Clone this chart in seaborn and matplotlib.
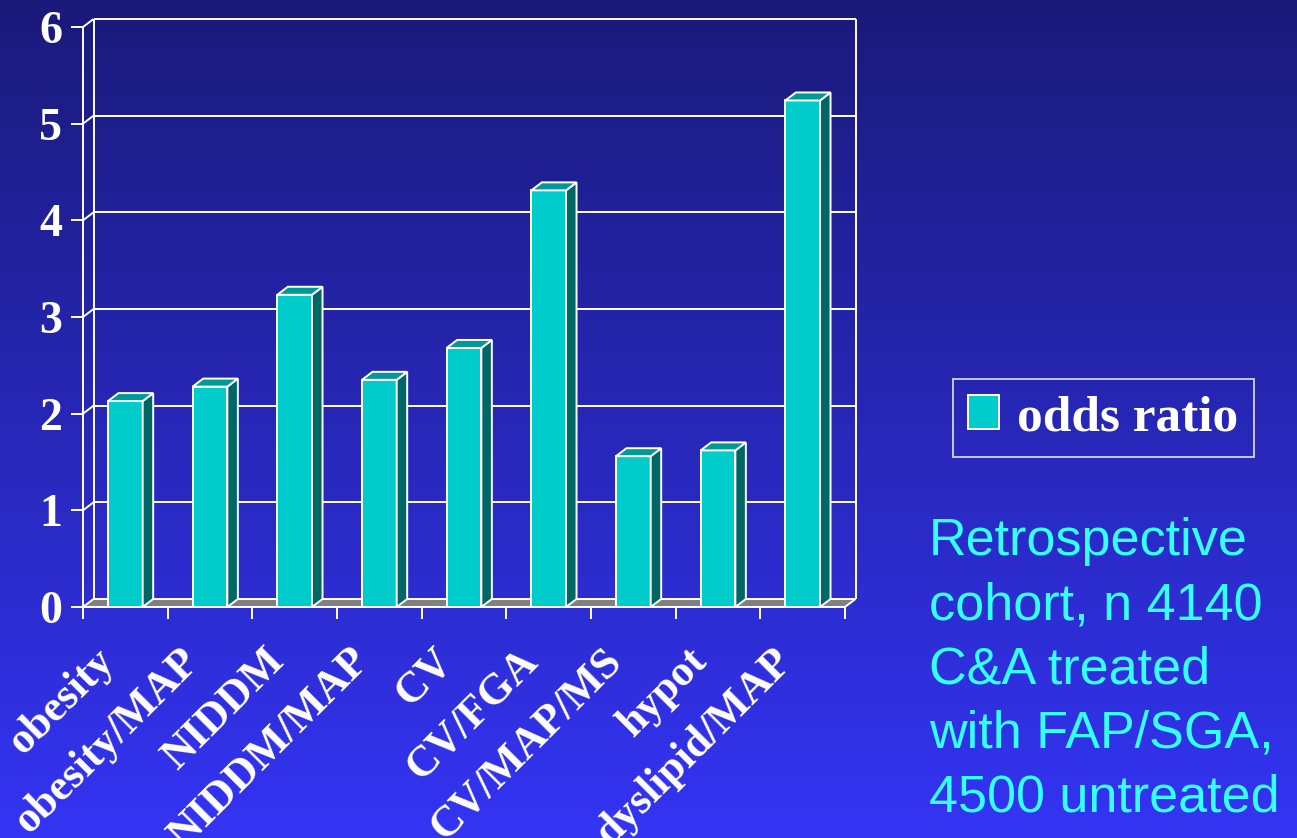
import numpy as np
import pandas as pd
import matplotlib
matplotlib.use("Agg")
import matplotlib.pyplot as plt
import matplotlib.transforms as mtransforms
from matplotlib.patches import Polygon
from matplotlib.colors import LinearSegmentedColormap
from matplotlib.ticker import NullFormatter
import seaborn as sns

# Odds ratio for each risk-factor combination
categories = ["obesity", "obesity/MAP", "NIDDM", "NIDDM/MAP", "CV",
              "CV/FGA", "CV/MAP/MS", "hypot", "dyslipid/MAP"]
odds_ratio = [2.13, 2.28, 3.23, 2.35, 2.68, 4.31, 1.56, 1.62, 5.24]
y_ticks = [0, 1, 2, 3, 4, 5, 6]
series_name = "odds ratio"
note_lines = ["Retrospective", "cohort, n 4140", "C&A treated",
              "with FAP/SGA,", "4500 untreated"]

W, H, DPI = 1297, 838, 100
SERIF = "Liberation Serif"
SANS = "Liberation Sans"
FRONT, SIDE, TOP, FLOOR = "#00CCCC", "#006666", "#009999", "#808080"
NOTE_COLOR = "#33FFFF"
EDGE_LW = 1.4

fig = plt.figure(figsize=(W / DPI, H / DPI), dpi=DPI)

# slide background: vertical gradient, dark navy at the top to bright blue
bg = fig.add_axes([0, 0, 1, 1], zorder=0)
bg.imshow(np.linspace(0, 1, 512).reshape(-1, 1),
          cmap=LinearSegmentedColormap.from_list("slide", ["#1a1a7a", "#3434f4"]),
          aspect="auto", extent=[0, 1, 0, 1])
bg.set_axis_off()


def px_box(left, top, right, bottom):
    return [left / W, 1 - bottom / H, (right - left) / W, (bottom - top) / H]


# front plane of the pseudo-3D plot box
ax = fig.add_axes(px_box(83, 27, 845, 607), zorder=1)
ax.patch.set_visible(False)

df = pd.DataFrame({"risk": categories, "odds": odds_ratio})
sns.barplot(data=df, x="risk", y="odds", color=FRONT, saturation=1, width=0.41,
            edgecolor="white", linewidth=EDGE_LW, ax=ax, zorder=4)
bars = list(ax.patches)

ax.set_xlim(-0.5, len(categories) - 0.5)
ax.set_ylim(y_ticks[0], y_ticks[-1])
ax.set_xlabel("")
ax.set_ylabel("")

# box depth, expressed in data units of each axis
x0, x1 = ax.get_xlim()
dx = 10.5 / (762 / (x1 - x0))
dy = 8.0 / (580 / (y_ticks[-1] - y_ticks[0]))

line_kw = dict(color="white", lw=EDGE_LW, clip_on=False, zorder=2,
               solid_capstyle="butt")
for v in y_ticks[1:]:
    ax.plot([x0 + dx, x1 + dx], [v + dy, v + dy], **line_kw)   # back-wall gridline
    ax.plot([x0, x0 + dx], [v, v + dy], **line_kw)             # side-wall step
ax.plot([x0 + dx, x0 + dx], [dy, y_ticks[-1] + dy], **line_kw)
ax.plot([x1 + dx, x1 + dx], [dy, y_ticks[-1] + dy], **line_kw)

# floor
ax.add_patch(Polygon([(x0, 0), (x1, 0), (x1 + dx, dy), (x0 + dx, dy)], closed=True,
                     fc=FLOOR, ec="white", lw=EDGE_LW, clip_on=False, zorder=3))

# side and top faces of every bar
for b in bars:
    bx, bw, bh = b.get_x(), b.get_width(), b.get_height()
    side = [(bx + bw, 0), (bx + bw + dx, dy), (bx + bw + dx, bh + dy), (bx + bw, bh)]
    top = [(bx, bh), (bx + bw, bh), (bx + bw + dx, bh + dy), (bx + dx, bh + dy)]
    ax.add_patch(Polygon(side, closed=True, fc=SIDE, ec="white", lw=EDGE_LW,
                         clip_on=False, zorder=4))
    ax.add_patch(Polygon(top, closed=True, fc=TOP, ec="white", lw=EDGE_LW,
                         clip_on=False, zorder=4))

# axes lines
for s in ("top", "right"):
    ax.spines[s].set_visible(False)
for s in ("left", "bottom"):
    ax.spines[s].set_color("white")
    ax.spines[s].set_linewidth(EDGE_LW)
    ax.spines[s].set_zorder(5)

# y axis
ax.set_yticks(y_ticks)
ax.set_yticklabels([str(v) for v in y_ticks])
ax.tick_params(axis="y", colors="white", length=8.6, width=EDGE_LW, pad=6.5,
               labelsize=33)
for lab in ax.get_yticklabels():
    lab.set_fontfamily(SERIF)
    lab.set_fontweight("bold")

# x axis: tick marks on category boundaries, names at the centres
ax.set_xticks(np.arange(x0, x1 + 0.5, 1.0))
ax.xaxis.set_major_formatter(NullFormatter())
ax.set_xticks(range(len(categories)), minor=True)
ax.set_xticklabels(categories, minor=True)
ax.tick_params(axis="x", which="major", colors="white", length=8.6, width=EDGE_LW)
ax.tick_params(axis="x", which="minor", length=0, pad=34.5, labelsize=31.5,
               labelcolor="white")
shift = mtransforms.ScaledTranslation(-17 / DPI, 0, fig.dpi_scale_trans)
for lab in ax.get_xticklabels(minor=True):
    lab.set_rotation(45)
    lab.set_ha("right")
    lab.set_va("center")
    lab.set_rotation_mode("anchor")
    lab.set_fontfamily(SERIF)
    lab.set_fontweight("bold")
    lab.set_transform(lab.get_transform() + shift)

# legend
leg = fig.legend(handles=[bars[0]], labels=[series_name], loc="center",
                 bbox_to_anchor=((955 + 1252) / 2 / W, 1 - 418 / H),
                 frameon=True, fancybox=False, edgecolor="white", facecolor="none",
                 handlelength=0.6, handleheight=0.65, handletextpad=0.35,
                 borderpad=0.3, borderaxespad=0,
                 prop=dict(family=SERIF, weight="bold", size=37), labelcolor="white")
leg.get_frame().set_linewidth(1.3)

# study note
for i, line in enumerate(note_lines):
    fig.text(929 / W, 1 - (555 + 64 * i) / H, line, ha="left", va="baseline",
             color=NOTE_COLOR, family=SANS, size=37.5)

fig.savefig("out.png", dpi=DPI)
